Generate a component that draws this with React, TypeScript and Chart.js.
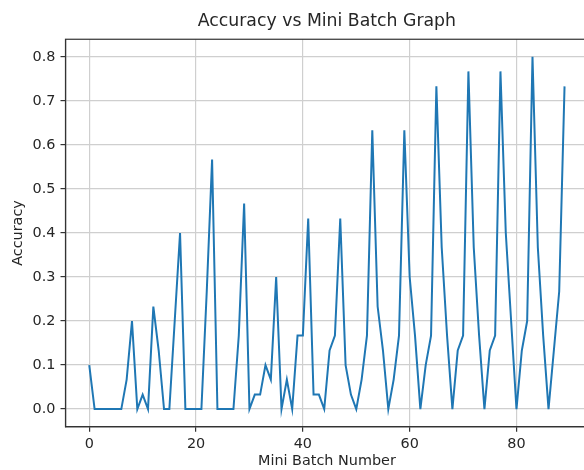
import { useEffect, useRef } from "react";
import { Chart, registerables } from "chart.js";

Chart.register(...registerables);

const chartTitle = "Accuracy vs Mini Batch Graph";
const xLabel = "Mini Batch Number";
const yLabel = "Accuracy";

// accuracy per mini batch (index = mini batch number)
const accuracy = [
  0.1, 0, 0, 0, 0, 0, 0, 0.067, 0.2, 0,
  0.033, 0, 0.233, 0.133, 0, 0, 0.2, 0.4, 0, 0,
  0, 0, 0.267, 0.567, 0, 0, 0, 0, 0.167, 0.467,
  0, 0.033, 0.033, 0.1, 0.067, 0.3, 0, 0.067, 0, 0.167,
  0.167, 0.433, 0.033, 0.033, 0, 0.133, 0.167, 0.433, 0.1, 0.033,
  0, 0.067, 0.167, 0.633, 0.233, 0.133, 0, 0.067, 0.167, 0.633,
  0.3, 0.167, 0, 0.1, 0.167, 0.733, 0.367, 0.167, 0, 0.133,
  0.167, 0.767, 0.367, 0.167, 0, 0.133, 0.167, 0.767, 0.4, 0.2,
  0, 0.133, 0.2, 0.8, 0.367, 0.167, 0, 0.133, 0.267, 0.733,
];

const xTicks = [0, 20, 40, 60, 80];
const yTicks = [0, 0.1, 0.2, 0.3, 0.4, 0.5, 0.6, 0.7, 0.8];

const FONT = "DejaVu Sans";
const TEXT = "#262626";

export default function App() {
  const ref = useRef<HTMLCanvasElement>(null);

  useEffect(() => {
    const canvas = ref.current;
    if (!canvas) return;
    const frame = {
      id: "frame",
      afterDraw(chart: any) {
        const { left, top, right, bottom } = chart.chartArea;
        const ctx = chart.ctx;
        ctx.save();
        ctx.strokeStyle = "#333333";
        ctx.lineWidth = 1.2;
        ctx.strokeRect(left, top, right - left, bottom - top);
        ctx.restore();
      },
    };
    const tickFont = { family: FONT, size: 14.4 };
    const chart = new Chart(canvas, {
      type: "line",
      data: {
        datasets: [
          {
            data: accuracy.map((y, i) => ({ x: i, y })),
            borderColor: "#1f77b4",
            borderWidth: 2,
            pointRadius: 0,
            tension: 0,
            fill: false,
          },
        ],
      },
      options: {
        animation: false,
        responsive: false,
        maintainAspectRatio: false,
        layout: { padding: { left: 0, top: 0, right: 11.7, bottom: 0 } },
        plugins: {
          legend: { display: false },
          tooltip: { enabled: false },
          title: {
            display: true,
            text: chartTitle,
            fullSize: false,
            color: TEXT,
            font: { family: FONT, size: 17.3, weight: "normal" },
            padding: { top: 11.2, bottom: 7.3 },
          },
        },
        scales: {
          x: {
            type: "linear",
            min: -4.45,
            max: 93.45,
            afterBuildTicks: (s: any) => {
              s.ticks = xTicks.map((v) => ({ value: v }));
            },
            afterFit: (s: any) => {
              s.height = 43.3;
            },
            ticks: {
              font: tickFont,
              color: TEXT,
              padding: 4,
              maxRotation: 0,
              autoSkip: false,
              callback: (v: any) => String(v),
            },
            grid: {
              color: "#cfcfcf",
              lineWidth: 1.2,
              tickLength: 5,
              tickColor: "#333333",
              tickWidth: 1.2,
            },
            border: { color: "#333333", width: 1.2 },
            title: {
              display: true,
              text: xLabel,
              color: TEXT,
              font: tickFont,
              padding: { top: 0, bottom: 0 },
            },
          },
          y: {
            type: "linear",
            min: -0.04,
            max: 0.84,
            afterBuildTicks: (s: any) => {
              s.ticks = yTicks.map((v) => ({ value: v }));
            },
            afterFit: (s: any) => {
              s.width = 65.5;
            },
            ticks: {
              font: tickFont,
              color: TEXT,
              padding: 5,
              autoSkip: false,
              callback: (v: any) => Number(v).toFixed(1),
            },
            grid: {
              color: "#cfcfcf",
              lineWidth: 1.2,
              tickLength: 5,
              tickColor: "#333333",
              tickWidth: 1.2,
            },
            border: { color: "#333333", width: 1.2 },
            title: {
              display: true,
              text: yLabel,
              color: TEXT,
              font: tickFont,
              padding: { top: 9.4, bottom: 0 },
            },
          },
        },
      },
      plugins: [frame],
    } as any);
    return () => chart.destroy();
  }, []);

  return (
    <div
      style={{
        position: "fixed",
        left: 0,
        top: 0,
        width: 584,
        height: 470,
        overflow: "hidden",
        background: "#ffffff",
      }}
    >
      <canvas
        ref={ref}
        width={600}
        height={470}
        style={{ display: "block", width: 600, height: 470 }}
      />
    </div>
  );
}
